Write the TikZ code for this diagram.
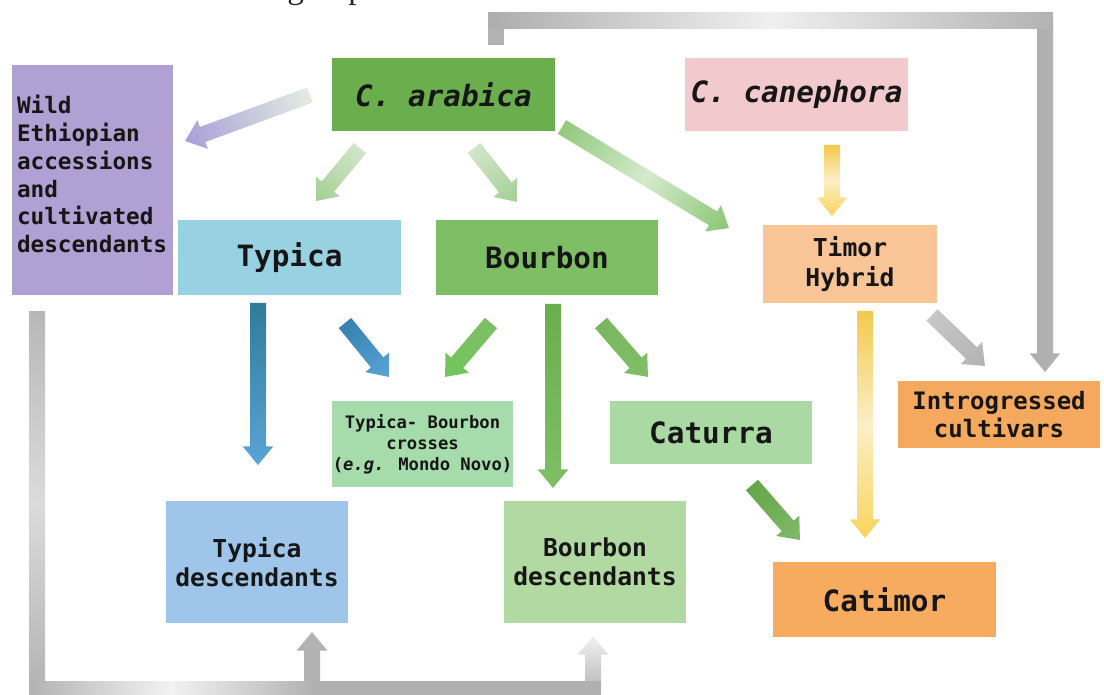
\documentclass[tikz,border=0pt]{standalone}
\usepackage{fontspec}
\setmainfont{Liberation Serif}
\newfontfamily\monof{DejaVu Sans Mono}
\usetikzlibrary{calc}
\definecolor{wildc}{HTML}{B1A0D4}
\definecolor{arabc}{HTML}{6BAE4E}
\definecolor{canec}{HTML}{F2C9CC}
\definecolor{typc}{HTML}{98D1E2}
\definecolor{bourc}{HTML}{7EBF66}
\definecolor{timc}{HTML}{F9C496}
\definecolor{crossc}{HTML}{A6DBAB}
\definecolor{catuc}{HTML}{AAD9A4}
\definecolor{introc}{HTML}{F5A95E}
\definecolor{tdesc}{HTML}{9FC6EA}
\definecolor{bdesc}{HTML}{B3D9A3}
\definecolor{catic}{HTML}{F6AB5F}
\definecolor{txt}{HTML}{161616}
\definecolor{gryA}{HTML}{B3B3B3}
\definecolor{paleg}{HTML}{E4ECE1}
\definecolor{lavA}{HTML}{A89FD8}
\definecolor{pgA}{HTML}{D2E6CA}
\definecolor{pgB}{HTML}{A3CF95}
\definecolor{yelA}{HTML}{F3C94E}
\definecolor{yelB}{HTML}{F8D45E}
\definecolor{yelP}{HTML}{FBEFC6}
\definecolor{tealA}{HTML}{2F7C98}
\definecolor{bluB}{HTML}{5AA4D7}
\definecolor{bluA}{HTML}{3482B0}
\tikzset{
  box/.style={rectangle, inner sep=0pt, align=center, text=txt},
  bigf/.style={font=\monof\bfseries\fontsize{22}{26}\selectfont},
  midf/.style={font=\monof\bfseries\fontsize{18.5}{22}\selectfont},
  wildf/.style={font=\monof\bfseries\fontsize{17}{20.8}\selectfont},
  smallf/.style={font=\monof\bfseries\fontsize{12.9}{15.8}\selectfont},
}
% box: name, x1, y1, x2, y2, options, text
\newcommand\bx[7]{\node[box,#6,minimum width={(#4-#2)*0.75pt},minimum height={(#5-#3)*0.75pt}] (#1) at ({(#2+#4)/2},{(#3+#5)/2}) {#7};}
% block arrow from coordinate #1 to coordinate #2, shading options #3
\newcommand\blockarrow[3]{%
  \pgfpointanchor{#1}{center}\pgfgetlastxy\bax\bay
  \pgfpointanchor{#2}{center}\pgfgetlastxy\bbx\bby
  \pgfmathsetmacro\bang{atan2((\bby)-(\bay),(\bbx)-(\bax))}%
  \pgfmathsetmacro\blen{veclen((\bbx)-(\bax),(\bby)-(\bay))}%
  \pgfmathsetmacro\bbase{\blen-14}%
  \begin{scope}[transform canvas={shift={(\bax,\bay)},rotate=\bang}]
    \shade[#3] (0pt,-6pt) -- (\bbase pt,-6pt) -- (\bbase pt,-11.5pt) -- (\blen pt,0pt) -- (\bbase pt,11.5pt) -- (\bbase pt,6pt) -- (0pt,6pt) -- cycle;
  \end{scope}}
\begin{document}
\begin{tikzpicture}[x=0.75pt,y=-0.75pt]
\fill[white] (0,0) rectangle (1104,695);
\useasboundingbox (0,0) rectangle (1104,695);

% caption fragment, cut at the top edge as in the reference
\node[anchor=base west, inner sep=0pt, text=black!85, font=\fontsize{25}{30}\selectfont] (cap) at (287,-1.5) {group};

% boxes
\bx{wild}{12}{65}{173}{295}{fill=wildc,wildf,text width={151*0.75pt},align=left}{Wild\\Ethiopian\\accessions\\and\\cultivated\\descendants\\[-11.8pt]\mbox{}}
\bx{arabica}{332}{58}{555}{131}{fill=arabc,bigf}{\itshape C. arabica}
\bx{canephora}{685}{58}{908}{131}{fill=canec,bigf}{\itshape C. canephora}
\bx{typica}{178}{220}{401}{295}{fill=typc,bigf}{Typica}
\bx{bourbon}{436}{220}{658}{295}{fill=bourc,bigf}{Bourbon}
\bx{timor}{763}{225}{937}{303}{fill=timc,midf}{Timor\\Hybrid}
\bx{crosses}{332}{401}{513}{487}{fill=crossc,smallf}{Typica- Bourbon\\crosses\\({\itshape e.g.} Mondo Novo)}
\bx{caturra}{610}{401}{812}{464}{fill=catuc,bigf}{Caturra}
\bx{introg}{898}{381}{1100}{448}{fill=introc,font=\monof\bfseries\fontsize{18}{20.5}\selectfont}{Introgressed\\cultivars}
\bx{typdesc}{166}{501}{348}{623}{fill=tdesc,midf}{Typica\\descendants}
\bx{boudesc}{504}{501}{686}{623}{fill=bdesc,midf}{Bourbon\\descendants}
\bx{catimor}{773}{562}{996}{637}{fill=catic,bigf}{Catimor}

% arrow end points
\coordinate (a1s) at (310,95);  \coordinate (a1e) at (185,141);
\coordinate (a2s) at (360,148); \coordinate (a2e) at (316,201);
\coordinate (a3s) at (474,148); \coordinate (a3e) at (517,202);
\coordinate (a4s) at (562,127); \coordinate (a4e) at (729,228);
\coordinate (a5s) at (832,145); \coordinate (a5e) at (832,216);
\coordinate (a6s) at (258,303); \coordinate (a6e) at (258,465);
\coordinate (a7s) at (345,323); \coordinate (a7e) at (389,377);
\coordinate (a8s) at (491,323); \coordinate (a8e) at (445,377);
\coordinate (a9s) at (553,304); \coordinate (a9e) at (553,488);
\coordinate (a10s) at (601,323); \coordinate (a10e) at (648,377);
\coordinate (a11s) at (865,311); \coordinate (a11e) at (865,538);
\coordinate (a12s) at (932,315); \coordinate (a12e) at (985,366);
\coordinate (a13s) at (752,485); \coordinate (a13e) at (800,540);

\blockarrow{a1s}{a1e}{left color=paleg, right color=lavA}
\blockarrow{a2s}{a2e}{left color=pgA, right color=pgB}
\blockarrow{a3s}{a3e}{left color=pgA, right color=pgB}
\blockarrow{a4s}{a4e}{left color=bourc!85!white, right color=bourc!90!white, middle color=bdesc!55!white}
\blockarrow{a5s}{a5e}{left color=yelA, right color=yelB, middle color=yelP}
\blockarrow{a6s}{a6e}{left color=tealA, right color=bluB}
\blockarrow{a7s}{a7e}{left color=bluA, right color=bluB}
\blockarrow{a8s}{a8e}{left color=bourc, right color=bourc!90!green}
\blockarrow{a9s}{a9e}{left color=arabc, right color=bourc}
\blockarrow{a10s}{a10e}{left color=arabc!90!white, right color=bourc}
\blockarrow{a11s}{a11e}{left color=yelA, right color=yelB, middle color=yelP}
\blockarrow{a12s}{a12e}{left color=black!22, right color=black!30}
\blockarrow{a13s}{a13e}{left color=arabc!95!black, right color=arabc!85!white}

% top L connector: C. arabica -> Introgressed cultivars
\coordinate (t1) at (496,45); \coordinate (t2) at (496,21);
\coordinate (t3) at (1045,21); \coordinate (t4) at (1045,372);
\blockarrow{t3}{t4}{top color=black!30, bottom color=black!32}
\fill[gryA] (488,13) rectangle (504,45);
\shade[left color=black!32, right color=black!30, middle color=black!6] (488,13) rectangle (1053,29);

% bottom L connector: Wild -> descendants
\coordinate (b1) at (37,312); \coordinate (b2) at (37,688);
\coordinate (b3s) at (312,690); \coordinate (b3e) at (312,632);
\coordinate (b4s) at (593,690); \coordinate (b4e) at (593,636);
\blockarrow{b3s}{b3e}{left color=black!30, right color=black!30}
\blockarrow{b4s}{b4e}{left color=black!28, right color=black!5}
\shade[top color=black!28, bottom color=black!30, middle color=black!14] (29,312) rectangle (45,695);
\shade[left color=black!30, right color=black!30, middle color=black!5] (29,681) rectangle (312,695);
\fill[black!31] (312,681) rectangle (601,695);
\end{tikzpicture}
\end{document}
